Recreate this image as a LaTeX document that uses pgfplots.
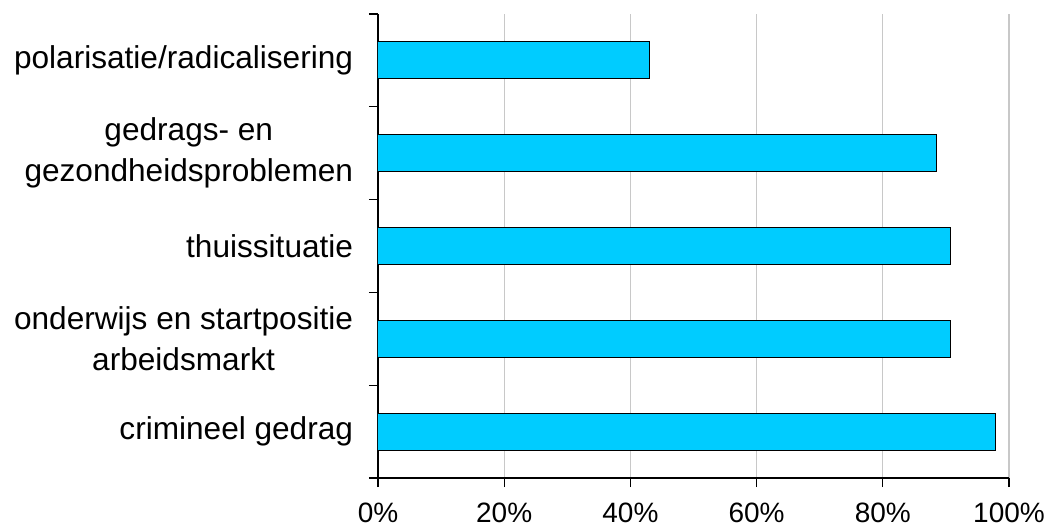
\documentclass[border=0pt]{standalone}
\usepackage{fontspec}
\setmainfont{Liberation Sans}
\usepackage{pgfplots}
\pgfplotsset{compat=1.18}
\definecolor{barcyan}{HTML}{00CCFF}
\definecolor{gridgray}{HTML}{C8C8C8}
\begin{document}
\fontsize{15.8bp}{20.5bp}\selectfont
\begin{tikzpicture}
\begin{axis}[
  at={(0,0)}, anchor=south west,
  scale only axis,
  width=315.5bp, height=232bp,
  xbar, bar width=18.5bp,
  xmin=0, xmax=100,
  ymin=-0.5, ymax=4.5,
  axis x line*=bottom, axis y line*=left,
  axis line style={black, line width=0.6bp},
  xtick={0,20,...,100},
  xticklabel={\pgfmathprintnumber{\tick}\%},
  /pgf/number format/assume math mode=true,
  xmajorgrids, major grid style={gridgray, line width=0.6bp},
  tick style={black, line width=0.6bp},
  major tick length=4.5bp,
  tick align=outside,
  ytick={-0.5,0.5,...,4.5},
  yticklabels={},
  extra y ticks={0,1,2,3,4},
  extra y tick labels={crimineel gedrag, {onderwijs en startpositie\\arbeidsmarkt}, thuissituatie, {gedrags- en\\gezondheidsproblemen}, polarisatie/radicalisering},
  extra y tick style={tick style={draw=none}, yticklabel style={align=center, xshift=-2.5bp}},
  yticklabel style={font=\fontsize{15.8bp}{20.5bp}\selectfont},
  xticklabel style={yshift=-2.5bp, font=\fontsize{14bp}{17bp}\selectfont},
]
\addplot[fill=barcyan, draw=black, line width=0.5bp] coordinates {
  (97.8,0) (90.8,1) (90.8,2) (88.5,3) (43.1,4)
};
\end{axis}
\pgfresetboundingbox
\path[use as bounding box] (-189bp,-24.5bp) rectangle (333.5bp,239bp);
\end{tikzpicture}
\end{document}
